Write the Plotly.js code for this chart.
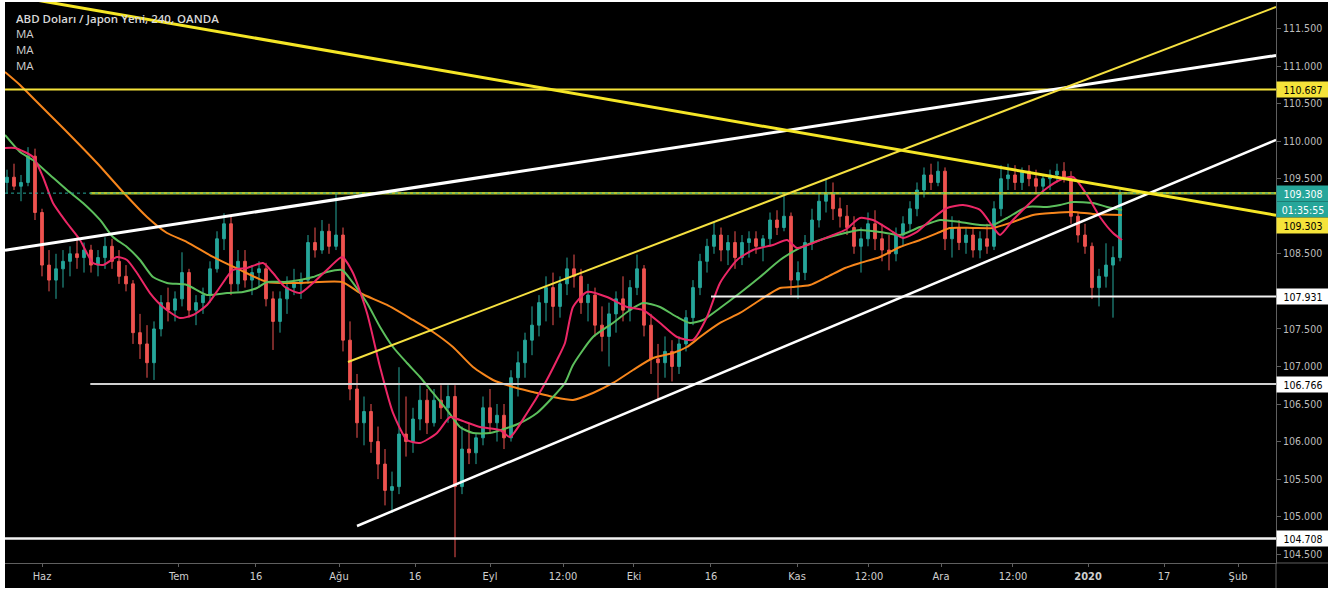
<!DOCTYPE html>
<html><head><meta charset="utf-8">
<script src="https://cdn.plot.ly/plotly-3.0.1.min.js"></script>
<style>
html,body{margin:0;padding:0;background:#fff;width:1332px;height:594px;overflow:hidden}
#chart{position:absolute;left:5px;top:2px;width:1323px;height:586px}
</style></head>
<body><div id="chart"></div>
<script>
// ---- candle data (bar index = trading-day slot) ----
const opens = [
109.45,109.52,109.40,109.45,109.80,109.05,108.35,108.15,108.30,108.40,
108.50,108.45,108.55,108.35,108.45,108.60,108.40,108.20,108.10,107.45,
107.30,107.05,107.50,107.85,107.75,107.90,108.25,107.75,107.85,107.95,
108.30,108.70,108.90,108.10,108.40,108.15,108.25,108.30,107.90,107.60,
107.90,108.05,108.10,108.15,108.65,108.55,108.80,108.60,108.75,107.35,
106.70,106.25,106.40,106.00,105.70,105.35,105.40,106.10,106.00,106.30,
106.55,106.25,106.55,106.45,106.60,105.40,105.90,105.85,106.05,106.45,
106.25,106.35,106.05,106.85,107.05,107.35,107.55,107.85,108.05,107.80,
108.10,108.30,108.20,107.85,107.95,107.55,107.40,107.70,107.90,107.75,
108.05,108.30,107.55,107.10,107.05,107.20,107.00,107.30,107.65,108.05,
108.40,108.60,108.75,108.55,108.65,108.45,108.65,108.70,108.60,108.70,
108.95,108.85,109.00,108.15,108.25,108.65,108.95,109.20,109.30,109.10,
109.00,108.85,108.60,108.70,108.90,108.70,108.55,108.50,108.75,108.90,
109.10,109.35,109.55,109.45,109.60,108.70,108.85,108.65,108.75,108.55,
108.70,108.60,109.10,109.50,109.55,109.45,109.60,109.50,109.40,109.50,
109.55,109.60,109.50,109.00,108.75,108.60,108.05,108.20,108.35,108.45];
const highs = [
109.62,109.70,109.55,109.92,109.90,109.10,108.55,108.50,108.55,108.60,
108.72,108.65,108.62,108.55,108.72,108.70,108.55,108.35,108.15,107.70,
107.55,107.60,107.95,108.05,108.00,108.52,108.30,107.95,108.05,108.40,
108.80,109.04,109.00,108.55,108.55,108.35,108.40,108.38,108.00,108.00,
108.20,108.30,108.25,108.75,108.85,108.95,108.90,109.31,108.85,107.60,
106.90,106.60,106.50,106.20,105.90,105.60,106.99,106.60,106.45,106.75,
106.70,106.70,106.75,106.75,106.75,106.20,106.25,106.10,106.60,106.70,
106.50,106.50,106.95,107.20,107.45,107.80,107.95,108.20,108.25,108.20,
108.45,108.49,108.30,108.10,108.05,107.80,107.85,108.00,108.20,108.15,
108.49,108.35,107.70,107.30,107.40,107.35,107.40,107.75,108.15,108.50,
108.70,108.92,108.85,108.75,108.80,108.75,108.80,108.80,108.75,109.05,
109.08,109.31,109.05,108.40,108.75,109.10,109.30,109.50,109.45,109.25,
109.15,109.00,108.85,109.05,109.08,108.90,108.75,108.85,109.00,109.20,
109.45,109.65,109.70,109.73,109.65,109.00,108.95,108.85,108.85,108.80,
108.90,109.20,109.68,109.70,109.68,109.65,109.68,109.62,109.55,109.62,
109.70,109.72,109.60,109.05,108.90,108.65,108.30,108.64,108.60,109.36];
const lows = [
109.30,109.35,109.20,109.40,108.95,108.20,108.00,107.90,108.05,108.20,
108.30,108.25,108.25,108.20,108.30,108.30,108.10,108.00,107.30,107.10,
106.85,106.82,107.40,107.60,107.60,107.80,107.65,107.55,107.70,107.85,
108.25,108.55,107.95,108.00,108.05,107.95,108.05,107.80,107.22,107.45,
107.70,107.95,107.90,108.10,108.45,108.50,108.50,108.55,107.20,106.55,
106.05,105.95,105.85,105.50,105.15,105.05,105.30,105.80,105.85,106.15,
106.10,106.20,106.30,106.25,104.46,105.30,105.70,105.70,105.95,106.10,
106.00,105.90,106.00,106.60,106.85,107.15,107.40,107.60,107.55,107.65,
107.95,108.05,107.70,107.60,107.40,107.20,107.00,107.45,107.60,107.60,
107.95,107.40,106.90,106.55,106.85,106.80,106.90,107.20,107.55,107.95,
108.25,108.50,108.40,108.35,108.30,108.35,108.45,108.50,108.40,108.60,
108.75,108.80,107.95,107.90,108.15,108.55,108.85,109.05,108.95,108.85,
108.75,108.50,108.25,108.60,108.55,108.40,108.28,108.40,108.60,108.80,
109.00,109.25,109.35,109.40,108.55,108.45,108.55,108.50,108.45,108.44,
108.50,108.55,109.00,109.35,109.35,109.35,109.40,109.32,109.30,109.35,
109.45,109.45,108.90,108.65,108.50,107.90,107.80,108.05,107.65,108.40];
const closes = [
109.52,109.40,109.45,109.80,109.05,108.35,108.15,108.30,108.40,108.50,
108.45,108.55,108.35,108.45,108.60,108.40,108.20,108.10,107.45,107.30,
107.05,107.50,107.85,107.75,107.90,108.25,107.75,107.85,107.95,108.30,
108.70,108.90,108.10,108.40,108.15,108.25,108.30,107.90,107.60,107.90,
108.05,108.10,108.15,108.65,108.55,108.80,108.60,108.75,107.35,106.70,
106.25,106.40,106.00,105.70,105.35,105.40,106.10,106.00,106.30,106.55,
106.25,106.55,106.45,106.60,105.40,105.90,105.85,106.05,106.45,106.25,
106.35,106.05,106.85,107.05,107.35,107.55,107.85,108.05,107.80,108.10,
108.30,108.20,107.85,107.95,107.55,107.40,107.70,107.90,107.75,108.05,
108.30,107.55,107.10,107.05,107.20,107.00,107.30,107.65,108.05,108.40,
108.60,108.75,108.55,108.65,108.45,108.65,108.70,108.60,108.70,108.95,
108.85,109.00,108.15,108.25,108.65,108.95,109.20,109.30,109.10,109.00,
108.85,108.60,108.70,108.90,108.70,108.55,108.50,108.75,108.90,109.10,
109.35,109.55,109.45,109.60,108.70,108.85,108.65,108.75,108.55,108.70,
108.60,109.10,109.50,109.55,109.45,109.60,109.50,109.40,109.50,109.55,
109.60,109.50,109.00,108.75,108.60,108.05,108.20,108.35,108.45,109.31];
const barIndex = opens.map((_, k) => k + 1);

// ---- moving averages ----
const maFastX = [0.71,2.14,4.71,6.14,7.57,9.57,11.43,13.29,14.71,16.71,18.14,19.57,21.43,23.29,25.71,27.57,29.57,31.43,33.29,35.29,37.57,39.0,40.71,42.86,44.71,47.14,48.86,50.43,52.43,54.29,56.14,58.14,60.0,62.43,64.29,65.71,68.57,71.43,72.86,75.29,77.57,79.57,80.71,81.86,83.86,86.71,89.57,91.86,94.29,96.71,99.0,101.0,102.86,105.29,107.57,110.43,112.43,113.86,116.14,119.0,120.71,122.86,124.71,127.14,129.0,131.0,133.29,135.29,137.57,140.0,141.86,142.86,144.71,147.14,149.57,151.43,153.29,155.29,157.14,159.0,160.29];
const maFastY = [109.909,109.909,109.789,109.523,109.177,108.910,108.684,108.378,108.351,108.458,108.418,108.245,107.978,107.792,107.645,107.685,107.819,108.058,108.285,108.311,108.378,108.245,108.058,107.978,108.112,108.325,108.458,108.245,107.712,106.993,106.381,106.021,105.981,106.115,106.327,106.287,106.194,106.154,106.061,106.381,106.727,107.086,107.313,107.792,107.992,107.925,107.792,107.752,107.579,107.392,107.353,107.659,108.112,108.418,108.551,108.618,108.684,108.578,108.644,108.751,108.817,108.977,108.950,108.817,108.711,108.791,108.977,109.110,109.150,109.084,108.857,108.751,108.950,109.177,109.377,109.483,109.523,109.283,108.990,108.777,108.684];
const maMidX = [0.71,2.86,4.71,7.14,9.57,11.86,14.29,16.14,18.14,20.0,21.86,23.86,26.71,29.57,32.43,34.71,36.71,38.14,40.71,42.86,44.71,46.71,48.86,50.43,52.43,54.29,56.14,58.14,60.0,61.86,63.86,65.71,67.57,70.0,72.43,74.29,76.71,79.0,80.71,81.86,84.71,87.57,90.0,91.86,94.29,96.71,98.57,100.43,102.86,105.71,108.57,111.43,114.29,117.14,120.71,122.86,125.71,128.57,131.43,134.29,137.14,140.0,141.86,143.86,146.71,149.57,151.43,153.29,156.14,158.14,160.29];
const maMidY = [110.082,109.856,109.749,109.550,109.350,109.177,108.951,108.724,108.591,108.418,108.191,108.112,108.085,107.952,107.978,107.992,108.045,108.125,108.125,108.152,108.191,108.258,108.285,108.112,107.845,107.526,107.259,107.046,106.860,106.647,106.420,106.194,106.114,106.114,106.181,106.247,106.381,106.594,106.780,107.020,107.392,107.579,107.752,107.845,107.792,107.659,107.579,107.619,107.779,107.978,108.191,108.418,108.578,108.684,108.777,108.817,108.791,108.751,108.857,108.951,108.924,108.884,108.884,108.977,109.124,109.124,109.150,109.190,109.177,109.124,109.084];
const maSlowX = [0.71,2.86,5.0,7.14,9.29,13.86,17.57,21.0,23.86,26.71,30.43,34.29,38.14,42.86,48.86,51.43,55.29,59.0,61.86,64.71,67.57,70.43,73.29,76.14,79.0,81.86,84.71,87.57,90.43,93.29,96.14,98.14,100.0,102.86,105.71,108.57,111.43,113.29,115.71,118.14,120.71,122.86,125.71,128.57,131.43,134.29,135.71,139.0,141.86,144.71,147.57,150.43,153.29,156.14,160.29];
const maSlowY = [110.921,110.748,110.548,110.349,110.149,109.709,109.323,108.990,108.777,108.657,108.458,108.285,108.125,108.112,108.125,107.978,107.819,107.619,107.459,107.259,106.993,106.820,106.727,106.660,106.594,106.554,106.647,106.780,106.953,107.113,107.179,107.259,107.392,107.579,107.712,107.885,108.045,108.058,108.085,108.191,108.311,108.378,108.458,108.591,108.684,108.791,108.844,108.844,108.844,108.924,109.017,109.044,109.057,109.030,109.017];

// ---- drawn trend lines (anchor points: bar index, price) ----
const yellowDownX = [0.714, 182.29];  const yellowDownY = [111.951, 109.013];
const yellowUpX   = [49.71, 182.29];  const yellowUpY   = [107.060, 111.787];
const whiteUpperX = [0.714, 182.29];  const whiteUpperY = [108.547, 111.141];
const whiteLowerX = [51.0, 182.29];   const whiteLowerY = [104.876, 110.016];

// ---- horizontal levels ----
const levelPrices = [110.687, 109.308, 107.931, 106.766, 104.708];
const levelStart  = [0.714, 12.9, 101.57, 12.9, 0.714];
const levelEnd    = 182.29;
const currentPrice = 109.308;
const yellowLineValue = 109.303;
const timerText = '01:35:55';

// ---- axis ticks ----
const xTickVals = [6.0,25.57,36.57,48.43,59.29,70.0,80.43,90.57,101.57,113.86,124.14,134.43,144.71,155.43,166.29,176.86];
const xTickText = ['Haz','Tem','16','Ağu','16','Eyl','12:00','Eki','16','Kas','12:00','Ara','12:00','<b>2020</b>','17','Şub'];
const yTickVals = [104.5,105,105.5,106,106.5,107,107.5,108.5,109.5,110,110.5,111,111.5];

const title = 'ABD Doları / Japon Yeni, 240, OANDA';
const studyNames = ['MA','MA','MA'];

const traces = [];
traces.push({
  type:'candlestick', x:barIndex, open:opens, high:highs, low:lows, close:closes,
  increasing:{line:{color:'#26a69a',width:1}, fillcolor:'#26a69a'},
  decreasing:{line:{color:'#ef5350',width:1}, fillcolor:'#ef5350'},
  whiskerwidth:0, hoverinfo:'skip'
});
function line(x,y,color,width,extra){
  return Object.assign({type:'scatter',mode:'lines',x:x,y:y,hoverinfo:'skip',
    line:Object.assign({color:color,width:width},extra||{})});
}
traces.push(line(maSlowX,maSlowY,'#f7861c',2,{shape:'spline',smoothing:0.6}));
traces.push(line(maMidX,maMidY,'#5cbf5c',2,{shape:'spline',smoothing:0.6}));
traces.push(line(maFastX,maFastY,'#ec2766',2,{shape:'spline',smoothing:0.6}));

const levelColors = ['#f5e33a','#b4c22a','#f2f2f2','#d0d0d0','#f2f2f2'];
const levelWidths = [2,2.5,2,2,2.5];
levelPrices.forEach((p,k)=>{
  traces.push(line([levelStart[k],levelEnd],[p,p],levelColors[k],levelWidths[k]));
});
traces.push(line([0.714,levelEnd],[currentPrice,currentPrice],'#26a69a',1,{dash:'dot'}));

traces.push(line(whiteUpperX,whiteUpperY,'#ffffff',3));
traces.push(line(whiteLowerX,whiteLowerY,'#ffffff',2.5));
traces.push(line(yellowUpX,yellowUpY,'#f5e040',2));
traces.push(line(yellowDownX,yellowDownY,'#f5e626',3));

const tagFont = 'DejaVu Sans Condensed, DejaVu Sans, sans-serif';
const tags = [
  {y:levelPrices[0], text:levelPrices[0].toFixed(3), bg:'#f5e33a', fg:'#000', shift:0},
  {y:currentPrice, text:currentPrice.toFixed(3), bg:'#26a69a', fg:'#fff', shift:0},
  {y:currentPrice, text:timerText, bg:'#26a69a', fg:'#fff', shift:-16},
  {y:yellowLineValue, text:yellowLineValue.toFixed(3), bg:'#f5e33a', fg:'#000', shift:-32},
  {y:levelPrices[2], text:levelPrices[2].toFixed(3), bg:'#ffffff', fg:'#000', shift:0},
  {y:levelPrices[3], text:levelPrices[3].toFixed(3), bg:'#ffffff', fg:'#000', shift:0},
  {y:levelPrices[4], text:levelPrices[4].toFixed(3), bg:'#ffffff', fg:'#000', shift:0}
];
const annotations = tags.map(t=>({
  xref:'paper', x:1, xanchor:'left', yref:'y', y:t.y, yanchor:'middle', yshift:t.shift,
  text:t.text, showarrow:false, bgcolor:t.bg, width:50, height:13, borderpad:1,
  align:'center', font:{family:tagFont, size:10.5, color:t.fg}
}));
annotations.push({xref:'paper',yref:'paper',x:0,y:1,xanchor:'left',yanchor:'middle',xshift:9,yshift:-16,
  text:title, showarrow:false, font:{family:'Open Sans, sans-serif', size:11.5, color:'#d8d8d8', weight:600}});
studyNames.forEach((s,k)=>annotations.push({xref:'paper',yref:'paper',x:0,y:1,xanchor:'left',yanchor:'middle',
  xshift:9, yshift:-31-16*k, text:s, showarrow:false, font:{family:'Open Sans, sans-serif', size:11.5, color:'#cfcfcf'}}));

const axisCol = '#5f5f5f';
const layout = {
  width:1323, height:586, paper_bgcolor:'#000', plot_bgcolor:'#000',
  margin:{l:0,r:52,t:0,b:25,pad:0}, showlegend:false, boxgap:0.45, dragmode:false,
  xaxis:{range:[0.714,182.286], tickmode:'array', tickvals:xTickVals, ticktext:xTickText,
    showgrid:false, zeroline:false, showline:true, linecolor:axisCol, linewidth:1,
    ticks:'outside', ticklen:3, tickcolor:axisCol, rangeslider:{visible:false}, fixedrange:true,
    tickfont:{family:'Liberation Sans Narrow, DejaVu Sans Condensed, sans-serif', size:11, color:'#cfcfcf'}},
  yaxis:{side:'right', range:[104.383,111.853], tickmode:'array', tickvals:yTickVals, tickformat:'.3f',
    showgrid:false, zeroline:false, showline:true, linecolor:axisCol, linewidth:1,
    ticks:'outside', ticklen:4, tickcolor:axisCol, fixedrange:true,
    tickfont:{family:tagFont, size:10.5, color:'#bdbdbd'}},
  shapes:[
    {type:'line',xref:'paper',yref:'paper',x0:1,x1:1.05,y0:0,y1:0,line:{color:axisCol,width:1}},
    {type:'line',xref:'paper',yref:'paper',x0:1,x1:1,y0:0,y1:-0.05,line:{color:axisCol,width:1}}
  ],
  annotations:annotations
};
Plotly.newPlot('chart', traces, layout, {displayModeBar:false, staticPlot:true});
</script>
</body></html>
